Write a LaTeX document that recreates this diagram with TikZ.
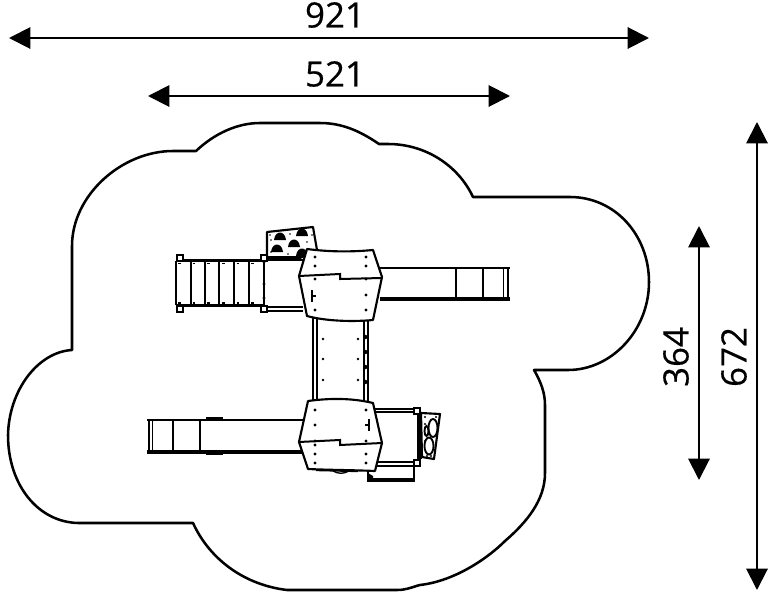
\documentclass[tikz,border=0pt]{standalone}
\usepackage{fontspec}
\setmainfont{Open Sans}
\newfontfamily\labfont[FakeBold=0.35]{Open Sans}
\usetikzlibrary{arrows.meta}
\tikzset{
  dim/.style={line width=1.5pt,{Triangle[length=16pt,width=16pt]}-{Triangle[length=16pt,width=16pt]}},
  lab/.style={font=\labfont\fontsize{26.2pt}{28pt}\selectfont,inner sep=0pt},
  thin line/.style={line width=1pt},
  panel/.style={line width=1.6pt,fill=white,line join=round},
  post/.style={line width=1.2pt,fill=white}
}
\begin{document}
\begin{tikzpicture}[x=0.75pt,y=-0.75pt]
\useasboundingbox (0,0) rectangle (772,600);
% surface
\draw[line width=1.9pt,line join=round]
 (72,350) -- (72,246)
 .. controls (72,195) and (122,151) .. (173,151) -- (196,151)
 .. controls (215,133) and (238,123) .. (260,123) -- (320,123)
 .. controls (342,123) and (360,131) .. (379,144) -- (388,144)
 .. controls (425,144) and (458,165) .. (473,197)
 -- (570,197)
 .. controls (615,197) and (649,235) .. (649,282)
 .. controls (649,330) and (612,370) .. (568,370)
 -- (534,370)
 .. controls (541,382) and (545,393) .. (545,405) -- (545,473)
 .. controls (545,500) and (527,522) .. (505,541)
 .. controls (488,558) and (455,581) .. (420,585)
 -- (418,585.5)
 .. controls (410,588) and (405,590) .. (397,590) -- (287,590)
 .. controls (245,585) and (210,560) .. (193,523)
 -- (78,523)
 .. controls (38,522) and (8,485) .. (8,435)
 .. controls (9,390) and (38,352) .. (72,350) -- cycle;
% dimensions
\coordinate (d1a) at (9,38); \coordinate (d1b) at (649,38);
\coordinate (d2a) at (148,96); \coordinate (d2b) at (510,96);
\coordinate (d3a) at (699,226); \coordinate (d3b) at (699,480);
\coordinate (d4a) at (757,122); \coordinate (d4b) at (757,590);
\draw[dim] (d1a) -- (d1b);
\draw[dim] (d2a) -- (d2b);
\draw[dim] (d3a) -- (d3b);
\draw[dim] (d4a) -- (d4b);
\node[lab] (t921) at (335,15) {921};
\node[lab] (t521) at (335,74) {521};
\node[lab,rotate=90] (t364) at (676,357) {364};
\node[lab,rotate=90] (t672) at (734,357) {672};
% upper slide
\draw[line width=1.9pt] (380,268) -- (510,268);
\draw[line width=2.5pt] (380,299) -- (510,299);
\draw[line width=1.3pt] (456,268) -- (456,299) (483,268) -- (483,299);
\draw[thin line] (503.5,268) -- (503.5,299) (508,268) -- (508,299);
% lower slide
\draw[line width=1.9pt] (147,420) -- (305,420);
\draw[line width=2.5pt] (147,452) -- (305,452);
\draw[line width=3pt] (206,419) -- (223,419) (206,453) -- (223,453);
\draw[line width=1.3pt] (173,420) -- (173,452) (200,420) -- (200,452);
\draw[thin line] (149,420) -- (149,452) (152.5,420) -- (152.5,452);
% climbing wall (top)
\draw[panel] (267,232) -- (313,227) -- (317,250) -- (300,258) -- (267,258) -- cycle;
\foreach \px/\py in {280/236, 302/232, 277/248, 294/243, 302/252}
  \fill (\px-6,\py+4) .. controls (\px-5,\py-6) and (\px+5,\py-6) .. (\px+6,\py+4) -- cycle;
\foreach \px/\py in {271/240, 271/252, 290/234, 307/242, 312/235, 288/254, 270/235}
  \fill (\px,\py) circle (0.7pt);
% stairs / net
\draw[line width=1.4pt] (176,261) -- (176,305) (191,261) -- (191,305) (205,261) -- (205,305)
  (219,261) -- (219,305) (234,261) -- (234,305) (249,261) -- (249,305) (264,261) -- (264,305);
\draw[line width=2.3pt] (176,260.5) -- (264,260.5);
\draw[line width=2.8pt] (176,305.5) -- (264,305.5);
\draw[line width=1.3pt,dash pattern=on 2pt off 9pt] (178,263.5) -- (264,263.5) (178,303) -- (264,303);
\draw[post] (177,255) rectangle (183,261);
\draw[post] (177,306) rectangle (183,312);
\draw[post] (261,255) rectangle (267,261);
\draw[post] (261,306) rectangle (267,312);
\draw[line width=1.3pt] (267,257) -- (303,257) (267,260) -- (303,260);
\draw[line width=1.6pt] (267,307) -- (303,307) (267,311) -- (303,311);
\foreach \py in {262,284,298} \fill (264,\py) circle (1.2pt);
% bridge
\draw[line width=1.7pt] (313,318) -- (313,402) (317,318) -- (317,402) (364,318) -- (364,402) (368,318) -- (368,402);
\foreach \py in {339,359,380} { \fill (323,\py) circle (1.1pt); \fill (358,\py) circle (1.1pt); }
\foreach \py in {337,352,367,382} \fill (365.5,\py) circle (1.6pt);
% tower back (lower right)
\draw[line width=1.5pt] (375,409) -- (417,409) (375,412) -- (417,412)
  (375,462) -- (417,462) (375,466) -- (417,466);
\draw[line width=1.5pt] (368,470) -- (368,480) (414,466) -- (414,480);
\draw[line width=2.4pt] (367,480) -- (415,480);
\fill (368,473) -- (373,476) -- (373,478) -- (368,478) -- cycle;
\fill (417,414) rectangle (422,459);
\draw[post] (414,408) rectangle (420,414);
\draw[post] (414,460) rectangle (420,466);
% wall with binoculars
\draw[panel] (421,413) -- (440,414) -- (434,459) -- (422,457) -- cycle;
\draw[line width=1.4pt] (433,428) ellipse (4.5 and 9);
\draw[line width=1.4pt] (429,446) ellipse (4.5 and 8.5);
\draw[line width=1.4pt] (426.5,431) ellipse (2 and 5);
\foreach \px/\py in {425/417, 425/424, 425/441, 427/456, 436/417, 437/436, 431/456}
  \fill (\px,\py) circle (0.8pt);
% upper platform
\draw[panel] (307,249) .. controls (330,252) and (352,252) .. (373,250)
  -- (382,277) -- (373,320) .. controls (352,322) and (325,321) .. (307,316)
  -- (299,276) -- cycle;
\draw[line width=1.5pt] (299,276) -- (340,274) -- (340,279) -- (382,278);
\draw[line width=2.2pt] (312,290) -- (312,302) (312,296) -- (316,296);
\foreach \px/\py in {315/257, 315/266, 315/279, 315/310, 366/257, 366/266, 366/279, 366/295, 366/310}
  \fill (\px,\py) circle (1.2pt);
% lower platform
\draw[line width=1pt] (316,470.5) -- (358,471.5);
\draw[line width=1pt] (333,471) .. controls (338,474) and (344,474) .. (349,471);
\draw[panel] (308,401) .. controls (330,398) and (352,398) .. (373,403)
  -- (382,443) -- (375,471) .. controls (352,470) and (330,470) .. (308,469)
  -- (299,442) -- cycle;
\draw[line width=1.5pt] (299,442) -- (340,440) -- (340,445) -- (382,443);
\draw[line width=2.2pt] (369,419) -- (369,431) (369,425) -- (365,425);
\foreach \px/\py in {315/410, 315/425, 315/441, 315/445, 315/454, 315/463, 366/410, 366/441, 366/454, 366/463}
  \fill (\px,\py) circle (1.2pt);
\end{tikzpicture}
\end{document}
